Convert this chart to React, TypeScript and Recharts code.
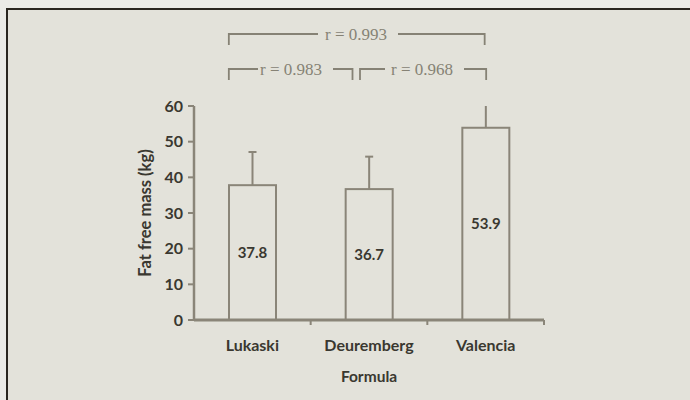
import React from "react";
import { BarChart, Bar, XAxis, YAxis, LabelList, Label, Customized } from "recharts";

const categories = ["Lukaski", "Deuremberg", "Valencia"];
const means = [37.8, 36.7, 53.9];
const sdUpper = [9.3, 9.1, 7.0];
const showCap = [true, true, false];
const yTicks = [0, 10, 20, 30, 40, 50, 60];
const correlations = ["r = 0.993", "r = 0.983", "r = 0.968"];

const data = categories.map((name, i) => ({
  name,
  value: means[i],
  err: sdUpper[i],
  cap: showCap[i],
}));

const W = 690;
const H = 400;
const MARGIN = { top: 106, right: 146, bottom: 30, left: 134 };
const YAXIS_W = 60;
const XAXIS_H = 50;
const PLOT_LEFT = MARGIN.left + YAXIS_W;
const PLOT_RIGHT = W - MARGIN.right;
const BAND = (PLOT_RIGHT - PLOT_LEFT) / categories.length;
const BAR_SIZE = 47;

const AXIS_COLOR = "#8a8578";
const TEXT_COLOR = "#3a3830";
const ANNOT_COLOR = "#868275";
const SANS = "Lato, 'Open Sans', sans-serif";
const SERIF = "'Liberation Serif', 'DejaVu Serif', serif";

const BarShape = (props: any) => {
  const { x, y, width, height, payload } = props;
  const pxPerUnit = payload.value ? height / payload.value : 0;
  const errPx = payload.err * pxPerUnit;
  const cx = x + width / 2;
  return (
    <g>
      <line x1={cx} y1={y} x2={cx} y2={y - errPx} stroke={AXIS_COLOR} strokeWidth={2} />
      {payload.cap && (
        <line x1={cx - 4} y1={y - errPx} x2={cx + 4} y2={y - errPx} stroke={AXIS_COLOR} strokeWidth={2} />
      )}
      <rect x={x} y={y} width={width} height={height} fill="#e3e2da" stroke={AXIS_COLOR} strokeWidth={2} />
    </g>
  );
};

const XTick = (props: any) => {
  const { x, y, payload } = props;
  const off = payload && payload.offset ? payload.offset : BAND / 2;
  const axisY = y - 20;
  return (
    <g>
      <line x1={x + off} y1={axisY} x2={x + off} y2={axisY + 5} stroke={AXIS_COLOR} strokeWidth={2} />
      <text x={x} y={y} dy="0.71em" textAnchor="middle" fill={TEXT_COLOR} fontFamily={SANS} fontWeight={700} fontSize={16}>
        {payload.value}
      </text>
    </g>
  );
};

const bandCenter = (i: number) => PLOT_LEFT + BAND * (i + 0.5);

const Brackets = () => {
  const lukLeft = bandCenter(0) - BAR_SIZE / 2;
  const valC = bandCenter(2);
  const deuC = bandCenter(1);
  const rows = [
    { y: 34, drop: 11, x1: lukLeft, x2: valC - 1, tx: 356, gap: [318, 398], label: correlations[0] },
    { y: 69, drop: 11, x1: lukLeft, x2: deuC - 16.5, tx: 291, gap: [258, 333], label: correlations[1] },
    { y: 69, drop: 11, x1: deuC - 9, x2: valC + 0.5, tx: 422, gap: [385, 464], label: correlations[2] },
  ];
  return (
    <g>
      {rows.map((r, i) => (
        <g key={i}>
          <polyline
            points={`${r.x1},${r.y + r.drop} ${r.x1},${r.y} ${r.gap[0]},${r.y}`}
            fill="none"
            stroke={ANNOT_COLOR}
            strokeWidth={1.8}
          />
          <polyline
            points={`${r.gap[1]},${r.y} ${r.x2},${r.y} ${r.x2},${r.y + r.drop}`}
            fill="none"
            stroke={ANNOT_COLOR}
            strokeWidth={1.8}
          />
          <text x={r.tx} y={r.y + 6} textAnchor="middle" fill={ANNOT_COLOR} fontFamily={SERIF} fontSize={17}>
            {r.label}
          </text>
        </g>
      ))}
    </g>
  );
};

export default function App() {
  return (
    <div style={{ position: "absolute", left: 0, top: 0, width: W, height: H, background: "#ebebe7", overflow: "hidden" }}>
      <div
        style={{
          position: "absolute",
          left: 6,
          top: 8,
          width: W,
          height: H,
          background: "#e3e2da",
          borderLeft: "2px solid #2a2620",
          borderTop: "2px solid #2a2620",
        }}
      />
      <div style={{ position: "absolute", left: 0, top: 0 }}>
        <BarChart width={W} height={H} data={data} margin={MARGIN} barSize={BAR_SIZE}>
          <XAxis
            dataKey="name"
            height={XAXIS_H}
            tickSize={0}
            tickMargin={20}
            tick={<XTick />}
            axisLine={{ stroke: AXIS_COLOR, strokeWidth: 3 }}
            interval={0}
          >
            <Label
              value="Formula"
              position="insideBottom"
              offset={-12}
              fill={TEXT_COLOR}
              fontFamily={SANS}
              fontWeight={700}
              fontSize={15.5}
            />
          </XAxis>
          <YAxis
            width={YAXIS_W}
            domain={[0, 60]}
            ticks={yTicks}
            interval={0}
            tickSize={6}
            tickMargin={5}
            axisLine={{ stroke: AXIS_COLOR, strokeWidth: 2.5 }}
            tickLine={{ stroke: AXIS_COLOR, strokeWidth: 2 }}
            tick={{ fill: TEXT_COLOR, fontFamily: SANS, fontWeight: 700, fontSize: 16 }}
            allowDataOverflow
          >
            <Label
              value="Fat free mass (kg)"
              angle={-90}
              position="insideLeft"
              offset={11}
              fill={TEXT_COLOR}
              fontFamily={SANS}
              fontWeight={700}
              fontSize={16.5}
              style={{ textAnchor: "middle" }}
            />
          </YAxis>
          <Bar dataKey="value" shape={<BarShape />} isAnimationActive={false}>
            <LabelList
              dataKey="value"
              position="center"
              fill={TEXT_COLOR}
              fontFamily={SANS}
              fontWeight={700}
              fontSize={15}
            />
          </Bar>
          <Customized component={<Brackets />} />
        </BarChart>
      </div>
    </div>
  );
}
